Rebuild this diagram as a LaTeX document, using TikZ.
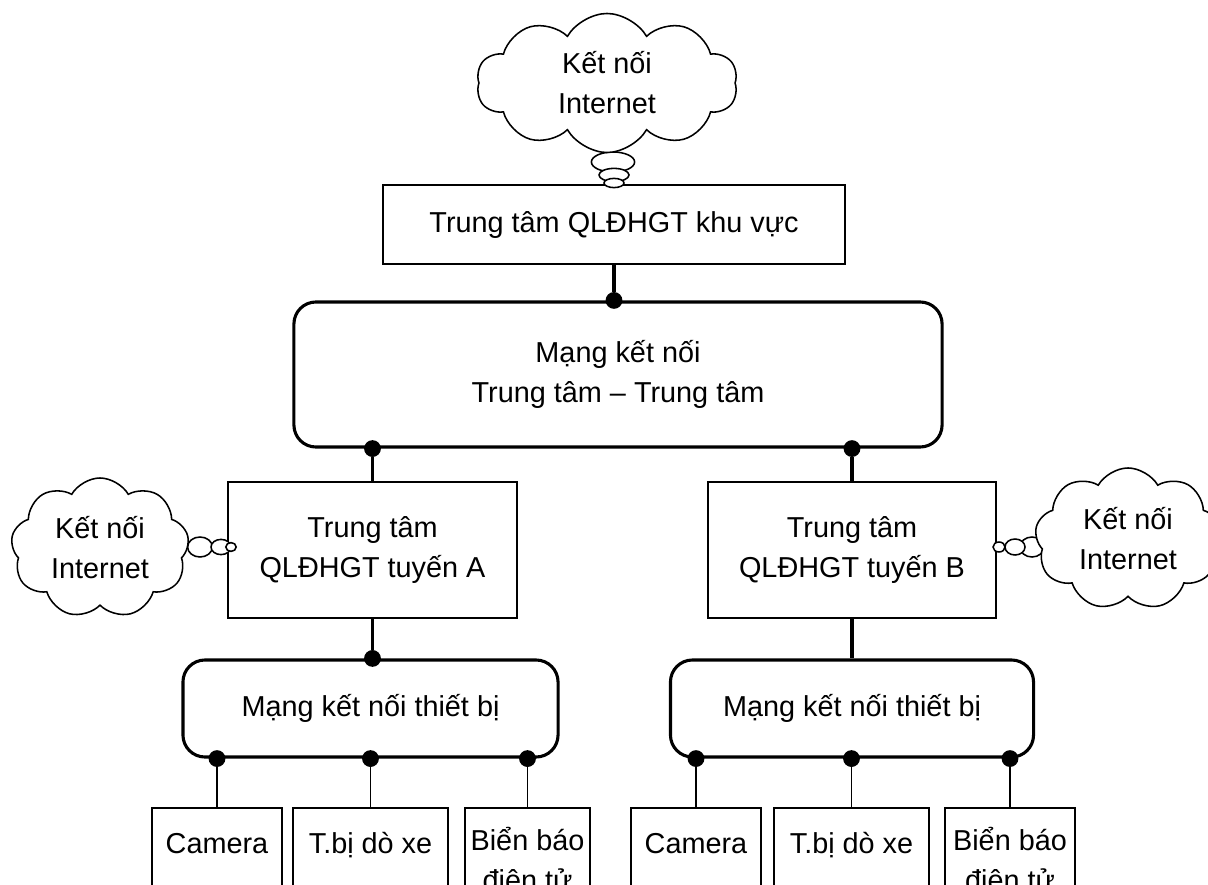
\documentclass[tikz,border=0pt]{standalone}
\usepackage{fontspec}
\setmainfont{Liberation Sans}
\usetikzlibrary{shapes.symbols}

\begin{document}
\begin{tikzpicture}[
  x=0.025cm, y=-0.025cm,
  font=\fontsize{20.5}{28.5}\selectfont,
  box/.style={draw, line width=1.1pt, align=center, inner sep=0pt},
  net/.style={draw, line width=2.2pt, rounded corners=0.55cm, align=center, inner sep=0pt},
  dev/.style={draw, line width=1.1pt, anchor=north, align=center, inner sep=0pt,
              minimum height=2.65cm},
  oneline/.style={text height=1.15cm, text depth=1.5cm},
  dot/.style={circle, fill, inner sep=0pt, minimum size=0.42cm},
  link/.style={line width=2.2pt},
  drop/.style={line width=1.1pt},
  web/.style={cloud, draw, fill=white, line width=1.1pt, cloud puffs=10,
              cloud puff arc=120, cloud ignores aspect, inner sep=0pt, align=center},
  puff/.style={draw, fill=white, line width=1.1pt}
]
\useasboundingbox (0,0) rectangle (1208,885);
\clip (0,0) rectangle (1208,885);

% Regional centre and centre network
\node[box, minimum width=11.55cm, minimum height=1.975cm] (khuvuc) at (614,224.5) {Trung tâm QLĐHGT khu vực};
\node[net, minimum width=16.2cm, minimum height=3.625cm] (ttnet) at (618,374.5) {Mạng kết nối\\Trung tâm – Trung tâm};

% Route centres
\node[box, minimum width=7.225cm, minimum height=3.4cm] (tuyenA) at (372.5,550) {Trung tâm\\QLĐHGT tuyến A};
\node[box, minimum width=7.2cm, minimum height=3.4cm] (tuyenB) at (852,550) {Trung tâm\\QLĐHGT tuyến B};

% Device networks
\node[net, minimum width=9.375cm, minimum height=2.425cm] (tbA) at (370.5,708.5) {Mạng kết nối thiết bị};
\node[net, minimum width=9.075cm, minimum height=2.425cm] (tbB) at (852,708.5) {Mạng kết nối thiết bị};

% Devices
\node[dev, oneline, minimum width=3.25cm]  (camA) at (217,807)   {Camera};
\node[dev, oneline, minimum width=3.875cm] (dxA)  at (370.5,807) {T.bị dò xe};
\node[dev, minimum width=3.125cm]          (bbA)  at (527.5,807) {Biển báo\\điện tử};
\node[dev, oneline, minimum width=3.25cm]  (camB) at (696,807)   {Camera};
\node[dev, oneline, minimum width=3.875cm] (dxB)  at (851.5,807) {T.bị dò xe};
\node[dev, minimum width=3.25cm]           (bbB)  at (1010,807)  {Biển báo\\điện tử};

% thought bubbles
\draw[puff] (613,162) ellipse [x radius=0.54cm, y radius=0.25cm];
\draw[puff] (614,175) ellipse [x radius=0.375cm, y radius=0.165cm];
\draw[puff] (614,183) ellipse [x radius=0.25cm, y radius=0.115cm];
\draw[puff] (200,547) ellipse [x radius=0.31cm, y radius=0.25cm];
\draw[puff] (221,547) ellipse [x radius=0.25cm, y radius=0.19cm];
\draw[puff] (231,547) ellipse [x radius=0.13cm, y radius=0.11cm];
\draw[puff] (1032,547) ellipse [x radius=0.3cm, y radius=0.25cm];
\draw[puff] (1015,547) ellipse [x radius=0.25cm, y radius=0.2cm];
\draw[puff] (999,547) ellipse [x radius=0.15cm, y radius=0.125cm];

% Internet clouds
\node[web, minimum width=6.525cm, minimum height=3.475cm] (webKV) at (607,83) {Kết nối\\Internet};
\node[web, cloud puffs=9, minimum width=4.45cm, minimum height=3.5cm] (webA) at (100,548) {Kết nối\\Internet};
\node[web, cloud puffs=9, minimum width=4.65cm, minimum height=3.55cm] (webB) at (1128,539) {Kết nối\\Internet};

% Junction dots
\node[dot] (dKV)   at (khuvuc.south |- ttnet.north) {};
\node[dot] (dA)    at (tuyenA.north |- ttnet.south) {};
\node[dot] (dB)    at (tuyenB.north |- ttnet.south) {};
\node[dot] (dtbA)  at (tuyenA.south |- tbA.north) {};
\node[dot] (dcamA) at (camA.north |- tbA.south) {};
\node[dot] (ddxA)  at (dxA.north |- tbA.south) {};
\node[dot] (dbbA)  at (bbA.north |- tbA.south) {};
\node[dot] (dcamB) at (camB.north |- tbB.south) {};
\node[dot] (ddxB)  at (dxB.north |- tbB.south) {};
\node[dot] (dbbB)  at (bbB.north |- tbB.south) {};

% edges
\draw[link] (khuvuc) -- (dKV);
\draw[link] (dA) -- (tuyenA);
\draw[link] (dB) -- (tuyenB);
\draw[link] (tuyenA) -- (dtbA);
\draw[link] (tuyenB) -- (tbB);
\draw[drop] (dcamA) -- (camA);
\draw[drop] (ddxA) -- (dxA);
\draw[drop] (dbbA) -- (bbA);
\draw[drop] (dcamB) -- (camB);
\draw[drop] (ddxB) -- (dxB);
\draw[drop] (dbbB) -- (bbB);
\end{tikzpicture}
\end{document}
